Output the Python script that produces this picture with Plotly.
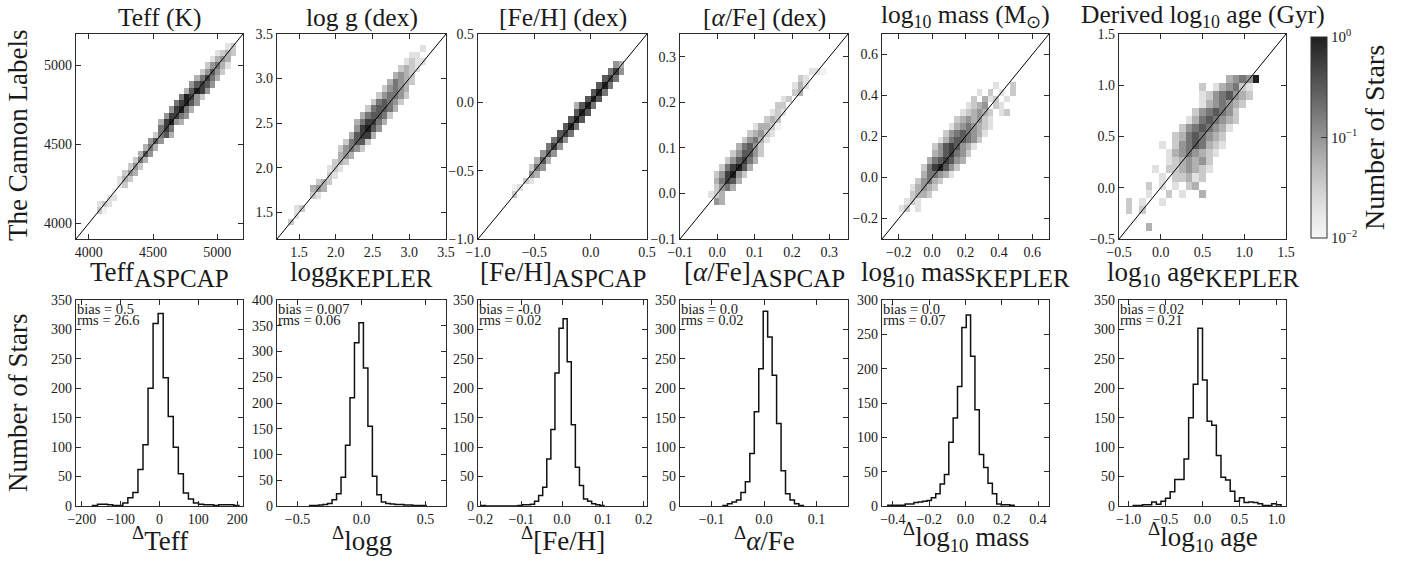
import numpy as np
import plotly.graph_objects as go

W, H = 1401, 563
FONT = "Liberation Serif"
INK = "#1a1a1a"

# ---------------- data ----------------
# intensity (fraction of peak) for each digit code used in the cell strings
LEVELS = [np.nan, 0.012, 0.02, 0.035, 0.06, 0.1, 0.18, 0.32, 0.56, 1.0]

# 2D histogram cells: (row index, first column index, codes for consecutive columns)
teff_cells = [(4, 4, "31"), (5, 4, "232"), (6, 6, "22"), (7, 7, "1"), (8, 8, "23"), (9, 8, "243"),
              (10, 9, "354"), (11, 10, "353"), (12, 11, "364"), (13, 12, "475"), (14, 13, "464"),
              (15, 14, "575"), (16, 15, "3674"), (17, 16, "686"), (18, 16, "48954"), (19, 17, "58865"),
              (20, 18, "58964"), (21, 19, "68975"), (22, 20, "69853"), (23, 21, "47985"),
              (24, 22, "57875"), (25, 23, "46864"), (26, 24, "35753"), (27, 25, "35642"),
              (28, 26, "2454"), (29, 27, "2343"), (30, 29, "23")]
logg_cells = [(2, 2, "3"), (3, 3, "2"), (4, 3, "23"), (6, 6, "32"), (7, 6, "454"), (8, 7, "343"),
              (9, 9, "32"), (10, 9, "232"), (11, 10, "343"), (12, 11, "454"), (13, 11, "35653"),
              (14, 12, "36773"), (15, 13, "47884"), (16, 14, "58975"), (17, 14, "468864"),
              (18, 15, "467763"), (19, 16, "367764"), (20, 17, "367653"), (21, 18, "356653"),
              (22, 19, "35654"), (23, 20, "46543"), (24, 21, "4543"), (25, 22, "3432"),
              (26, 23, "2322"), (27, 24, "22"), (28, 26, "2")]
feh_cells = [(6, 6, "3"), (7, 6, "12"), (8, 8, "32"), (9, 9, "54"), (10, 9, "365"), (11, 10, "474"),
             (12, 11, "575"), (13, 12, "685"), (14, 13, "685"), (15, 14, "786"), (16, 15, "796"),
             (17, 16, "797"), (18, 17, "797"), (19, 17, "4796"), (20, 19, "797"), (21, 20, "796"),
             (22, 21, "796"), (23, 22, "786"), (24, 23, "685"), (25, 24, "54")]
afe_cells = [(5, 6, "54"), (6, 5, "234"), (7, 6, "3564"), (8, 6, "46874"), (9, 6, "358953"),
             (10, 7, "368974"), (11, 8, "357864"), (12, 9, "357753"), (13, 10, "46753"),
             (14, 11, "35642"), (15, 12, "34532"), (16, 13, "24431"), (17, 15, "343"), (18, 16, "232"),
             (19, 17, "33"), (20, 18, "23"), (21, 20, "34"), (22, 20, "242"), (23, 21, "32"),
             (24, 23, "221")]
mass_cells = [(4, 3, "23"), (4, 6, "2"), (5, 4, "232"), (6, 5, "3443"), (7, 5, "24543"), (8, 6, "35643"),
              (9, 7, "466542"), (10, 7, "3689753"), (11, 8, "4678754"), (12, 9, "4578653"),
              (13, 9, "35787542"), (14, 10, "24677653"), (15, 11, "35676542"), (16, 12, "24565432"),
              (17, 13, "3454532"), (18, 14, "23454302"), (18, 22, "3"), (19, 15, "2345032"),
              (20, 16, "3042302"), (21, 17, "2030203"), (22, 20, "2003")]
age_cells = [(1, 4, "4"), (3, 1, "303"), (4, 1, "3020020"), (5, 4, "200302004"), (6, 4, "302020340"),
             (7, 6, "2033423"), (8, 5, "203345432"), (9, 7, "2345453"), (10, 7, "24565432"),
             (11, 6, "2035676432"), (12, 8, "34676543"), (13, 9, "35676542"), (14, 10, "24676543"),
             (15, 11, "3567653"), (16, 12, "2456543"), (17, 12, "23567543"), (18, 12, "30245632"),
             (19, 16, "45659")]

# residual histograms: first bin edge, bin width, counts
teff_res_start, teff_res_width = -172.5, 13.0
teff_res_counts = [1, 3, 3, 2, 1, 1, 5, 14, 23, 62, 104, 200, 310, 327, 218, 152, 100, 55, 22, 12,
                   5, 3, 2, 2, 1, 2, 2, 2, 1]
logg_res_start, logg_res_width = -0.405, 0.035
logg_res_counts = [1, 1, 2, 3, 5, 12, 24, 56, 118, 210, 317, 356, 268, 155, 58, 22, 8, 5, 4, 3,
                   3, 2, 2, 1, 1, 1]
feh_res_start, feh_res_width = -0.1975, 0.01
feh_res_counts = [1, 0, 0, 0, 0, 0, 0, 0, 0, 1, 2, 2, 3, 8, 18, 32, 80, 130, 226, 302, 318, 245,
                  138, 66, 35, 12, 8, 4, 2, 1]
afe_res_start, afe_res_width = -0.078, 0.0085
afe_res_counts = [1, 4, 7, 10, 23, 41, 89, 160, 233, 331, 287, 222, 140, 60, 21, 10, 4, 1]
mass_res_start, mass_res_width = -0.428, 0.024
mass_res_counts = [1, 1, 1, 1, 3, 3, 5, 6, 7, 8, 12, 18, 32, 46, 93, 128, 174, 260, 278, 218, 140,
                   75, 56, 33, 18, 3, 2, 2, 1]
age_res_start, age_res_width = -0.9375, 0.0625
age_res_counts = [1, 1, 2, 2, 7, 3, 8, 13, 24, 45, 45, 80, 150, 207, 302, 214, 144, 137, 86, 49, 44,
                  25, 8, 14, 6, 7, 6, 4, 1, 1, 4, 2]

# text
titles = ["Teff (K)", "log g (dex)", "[Fe/H] (dex)", "[<i>α</i>/Fe] (dex)",
          "log<sub>10</sub> mass (M<sub>⊙</sub>)", "Derived log<sub>10</sub> age (Gyr)"]
top_base = ["Teff", "logg", "[Fe/H]", "[<i>α</i>/Fe]", "log<sub>10</sub> mass", "log<sub>10</sub> age"]
top_sub = ["ASPCAP", "KEPLER", "ASPCAP", "ASPCAP", "KEPLER", "KEPLER"]
bottom_labels = ["Teff", "logg", "[Fe/H]", "<i>α</i>/Fe", "log<sub>10</sub> mass", "log<sub>10</sub> age"]
bias_text = ["bias = 0.5", "bias = 0.007", "bias = -0.0", "bias = 0.0", "bias = 0.0", "bias = 0.02"]
rms_text = ["rms = 26.6", "rms = 0.06", "rms = 0.02", "rms = 0.02", "rms = 0.07", "rms = 0.21"]

# ---------------- layout geometry ----------------
cols_px = [(76, 243), (277, 446), (478, 647), (680, 848), (882, 1049), (1119, 1286)]
top_px = (34, 239)
bot_px = (300, 506)

def px(x):
    return x / W

def py(y):
    return 1 - y / H

top_cfg = [
    dict(rng=[3900, 5200], ticks=[4000, 4500, 5000], fmt="d", x0=3900, dx=40, n=33, cells=teff_cells),
    dict(rng=[1.2, 3.5], ticks=[1.5, 2.0, 2.5, 3.0, 3.5], fmt=".1f", x0=1.2, dx=0.075, n=31, cells=logg_cells),
    dict(rng=[-1.0, 0.5], ticks=[-1.0, -0.5, 0.0, 0.5], fmt=".1f", x0=-1.0, dx=0.05, n=30, cells=feh_cells),
    dict(rng=[-0.1, 0.35], ticks=[-0.1, 0.0, 0.1, 0.2, 0.3], fmt=".1f", x0=-0.1, dx=0.015, n=30, cells=afe_cells),
    dict(rng=[-0.3, 0.7], ticks=[-0.2, 0.0, 0.2, 0.4, 0.6], fmt=".1f", x0=-0.3, dx=1 / 30, n=30, cells=mass_cells),
    dict(rng=[-0.5, 1.5], ticks=[-0.5, 0.0, 0.5, 1.0, 1.5], fmt=".1f", x0=-0.5, dx=0.08, n=25, cells=age_cells),
]
bot_cfg = [
    dict(rng=[-215, 215], ticks=[-200, -100, 0, 100, 200], fmt="d", yr=[0, 350],
         start=teff_res_start, width=teff_res_width, counts=teff_res_counts),
    dict(rng=[-0.66, 0.66], ticks=[-0.5, 0.0, 0.5], fmt=".1f", yr=[0, 400],
         start=logg_res_start, width=logg_res_width, counts=logg_res_counts),
    dict(rng=[-0.206, 0.208], ticks=[-0.2, -0.1, 0.0, 0.1, 0.2], fmt=".1f", yr=[0, 350],
         start=feh_res_start, width=feh_res_width, counts=feh_res_counts),
    dict(rng=[-0.16, 0.16], ticks=[-0.1, 0.0, 0.1], fmt=".1f", yr=[0, 350],
         start=afe_res_start, width=afe_res_width, counts=afe_res_counts),
    dict(rng=[-0.46, 0.46], ticks=[-0.4, -0.2, 0.0, 0.2, 0.4], fmt=".1f", yr=[0, 300],
         start=mass_res_start, width=mass_res_width, counts=mass_res_counts),
    dict(rng=[-1.13, 1.13], ticks=[-1.0, -0.5, 0.0, 0.5, 1.0], fmt=".1f", yr=[0, 350],
         start=age_res_start, width=age_res_width, counts=age_res_counts),
]

CS = [[0.0, "#f6f6f6"], [0.125, "#e6e6e6"], [0.25, "#cfcfcf"], [0.375, "#b4b4b4"], [0.5, "#959595"],
      [0.625, "#777777"], [0.75, "#5a5a5a"], [0.875, "#3d3d3d"], [1.0, "#1f1f1f"]]


def axis(domain, rng, ticks, fmt, **kw):
    d = dict(domain=domain, range=rng, tickvals=ticks, tickformat=fmt, showline=True, linecolor="#2a2a2a",
             linewidth=1.4, mirror="ticks", ticks="inside", ticklen=5, tickwidth=1.1, tickcolor="#2a2a2a",
             showgrid=False, zeroline=False, fixedrange=True, automargin=False,
             tickfont=dict(family=FONT, size=14, color=INK))
    d.update(kw)
    return d


fig = go.Figure()
layout = {}
annotations = []

for i, cfg in enumerate(top_cfg):
    k = i + 1
    l, r = cols_px[i]
    n = cfg["n"]
    z = np.full((n, n), np.nan)
    for row, c0, codes in cfg["cells"]:
        for j, ch in enumerate(codes):
            if ch != "0":
                z[row, c0 + j] = LEVELS[int(ch)]
    centers = cfg["x0"] + cfg["dx"] * (np.arange(n) + 0.5)
    fig.add_trace(go.Heatmap(x=centers, y=centers, z=np.log10(z), coloraxis="coloraxis",
                             xaxis=f"x{k}", yaxis=f"y{k}", hoverinfo="skip"))
    lo, hi = cfg["rng"]
    fig.add_trace(go.Scatter(x=[lo, hi], y=[lo, hi], mode="lines", line=dict(color="black", width=1),
                             xaxis=f"x{k}", yaxis=f"y{k}", showlegend=False, hoverinfo="skip"))
    layout[f"xaxis{k}"] = axis([px(l), px(r)], cfg["rng"], cfg["ticks"], cfg["fmt"], anchor=f"y{k}")
    layout[f"yaxis{k}"] = axis([py(top_px[1]), py(top_px[0])], cfg["rng"], cfg["ticks"], cfg["fmt"],
                               anchor=f"x{k}")
    cx = px((l + r) / 2)
    annotations.append(dict(text=titles[i], x=cx, y=py(33), xref="paper", yref="paper",
                            xanchor="center", yanchor="bottom", showarrow=False, borderpad=0,
                            font=dict(family=FONT, size=25.5, color=INK)))
    annotations.append(dict(text=f"{top_base[i]}<sub><span style='font-size:25px'>{top_sub[i]}</span></sub>",
                            x=cx, y=py(256), xref="paper", yref="paper", borderpad=0,
                            xanchor="center", yanchor="top", showarrow=False,
                            font=dict(family=FONT, size=27, color=INK)))

for i, cfg in enumerate(bot_cfg):
    k = i + 7
    l, r = cols_px[i]
    counts = list(cfg["counts"])
    edges = cfg["start"] + cfg["width"] * np.arange(len(counts) + 1)
    xs = [edges[0]] + list(edges[:-1]) + [edges[-1]]
    ys = [0] + counts + [0]
    fig.add_trace(go.Scatter(x=xs, y=ys, mode="lines", line=dict(color="#111", width=1.5, shape="hv"),
                             xaxis=f"x{k}", yaxis=f"y{k}", showlegend=False, hoverinfo="skip"))
    yt = list(range(0, cfg["yr"][1] + 1, 50))
    layout[f"xaxis{k}"] = axis([px(l), px(r)], cfg["rng"], cfg["ticks"], cfg["fmt"], anchor=f"y{k}")
    layout[f"yaxis{k}"] = axis([py(bot_px[1]), py(bot_px[0])], cfg["yr"], yt, "d", anchor=f"x{k}")
    cx = px((l + r) / 2)
    annotations.append(dict(text=f"<sup>Δ</sup>{bottom_labels[i]}", x=cx, y=py(558), xref="paper",
                            yref="paper", xanchor="center", yanchor="bottom", showarrow=False,
                            font=dict(family=FONT, size=27, color=INK)))
    annotations.append(dict(text=bias_text[i], x=px(l), y=py(300), xref="paper", yref="paper",
                            xanchor="left", yanchor="top", showarrow=False, borderpad=0,
                            font=dict(family=FONT, size=14.5, color=INK)))
    annotations.append(dict(text=rms_text[i], x=px(l), y=py(311), xref="paper", yref="paper",
                            xanchor="left", yanchor="top", showarrow=False, borderpad=0,
                            font=dict(family=FONT, size=14.5, color=INK)))

annotations.append(dict(text="The Cannon Labels", x=px(18), y=py(136), xref="paper", yref="paper",
                        xanchor="center", yanchor="middle", textangle=-90, showarrow=False,
                        font=dict(family=FONT, size=27, color=INK)))
annotations.append(dict(text="Number of Stars", x=px(18), y=py(403), xref="paper", yref="paper",
                        xanchor="center", yanchor="middle", textangle=-90, showarrow=False,
                        font=dict(family=FONT, size=27, color=INK)))

layout["coloraxis"] = dict(
    cmin=-2, cmax=0, colorscale=CS,
    colorbar=dict(x=px(1311), xanchor="left", y=py(238), yanchor="bottom", len=201 / H, lenmode="fraction",
                  thickness=16, thicknessmode="pixels", xpad=0, ypad=0, outlinewidth=1, outlinecolor="#333",
                  tickvals=[-2, -1, 0], ticktext=["10<sup>−2</sup>", "10<sup>−1</sup>", "10<sup>0</sup>"],
                  ticks="inside", ticklen=6, tickcolor="#333",
                  tickfont=dict(family=FONT, size=15, color=INK),
                  title=dict(text="Number of Stars", side="right", font=dict(family=FONT, size=28, color=INK))))

fig.update_layout(width=W, height=H, margin=dict(l=0, r=0, t=0, b=0, autoexpand=False),
                  paper_bgcolor="white", plot_bgcolor="white", showlegend=False,
                  annotations=annotations, **layout)

fig.write_html("out.html")
